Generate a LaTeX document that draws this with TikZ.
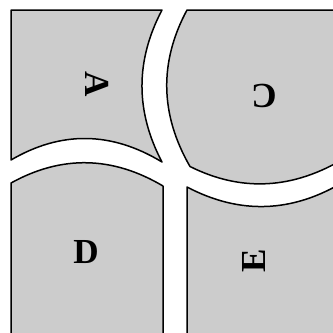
\documentclass[tikz,border=0pt]{standalone}
\usepackage{fontspec}
\setmainfont{Liberation Serif}
\usepackage{tikz}
\definecolor{panelgray}{RGB}{204,204,204}

\begin{document}
\begin{tikzpicture}[
  x=0.3mm, y=-0.3mm,
  panel/.style={fill=panelgray, draw=black, line width=0.45mm, line join=round},
  tag/.style={font=\bfseries\fontsize{30}{30}\selectfont, inner sep=0pt}
]
\useasboundingbox (0,0) rectangle (333,333);
\clip (0,0) rectangle (333,333);
% panels (edges past 333 are clipped away)
\draw[panel] (11,10) -- (162,10)
  .. controls +(-26.7,50.7) and +(-26.7,-50.7) .. (162,162)
  .. controls +(-50.7,-30.7) and +(50,-29.3) .. (11,160) -- cycle;
\draw[panel] (187,10) -- (345,10) -- (345,158)
  .. controls +(-51.7,31.3) and +(51.7,25.8) .. (190,166.5)
  .. controls +(-30,-52) and +(-28,52) .. (187,10) -- cycle;
\draw[panel] (11,345) -- (11,183)
  .. controls +(50.7,-28) and +(-50.7,-30) .. (163,186) -- (163,345) -- cycle;
\draw[panel] (187,345) -- (187,187)
  .. controls +(52.7,27.7) and +(-52.7,32.2) .. (345,181) -- (345,345) -- cycle;
% labels
\node[tag, rotate=-90] (lblA) at (97,84) {A};
\node[tag, rotate=180] (lblC) at (264,96) {C};
\node[tag] (lblD) at (86,252) {D};
\node[tag, rotate=90] (lblE) at (254,261) {E};
\end{tikzpicture}
\end{document}
